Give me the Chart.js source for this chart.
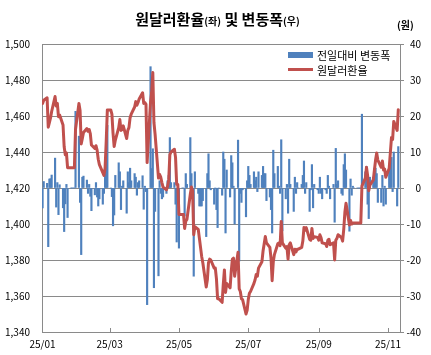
<!DOCTYPE html>
<html><head><meta charset="utf-8">
<script src="https://cdn.jsdelivr.net/npm/chart.js@4.4.1/dist/chart.umd.min.js"></script>
<style>
html,body{margin:0;padding:0;background:#fff;}
#wrap{position:relative;width:431px;height:355px;overflow:hidden;}
#c{position:absolute;left:0;top:0;}
.title{position:absolute;left:2px;width:431px;top:9px;line-height:20px;text-align:center;font-weight:bold;font-size:15px;font-family:"Noto Sans CJK KR",sans-serif;color:#000;white-space:nowrap;}
.title .s{font-size:10px;}
.unit{position:absolute;left:397px;top:19px;line-height:12px;font-weight:bold;font-size:10px;font-family:"Noto Sans CJK KR",sans-serif;color:#000;}
.sw{position:absolute;}
.lt{position:absolute;left:317px;line-height:14px;font-size:11px;font-family:"Noto Sans CJK KR",sans-serif;color:#000;white-space:nowrap;}
</style></head>
<body>
<div id="wrap">
<canvas id="c" width="431" height="355"></canvas>
<div class="title">원달러환율<span class="s">(좌)</span> 및 변동폭<span class="s">(우)</span></div>
<div class="unit">(원)</div>
<div class="sw" style="left:288px;top:52px;width:25px;height:6px;background:#4F81BD"></div>
<div class="lt" style="top:48px">전일대비 변동폭</div>
<div class="sw" style="left:288px;top:68px;width:25px;height:3px;background:#C0504D"></div>
<div class="lt" style="top:63px">원달러환율</div>
</div>
<script>
const year = 2025;
const dates = [
'01-02','01-03','01-06','01-07','01-08','01-09','01-10','01-13','01-14','01-15','01-16','01-17','01-20','01-21','01-22','01-23','01-24','01-27','01-28','01-29','01-30','01-31',
'02-03','02-04','02-05','02-06','02-07','02-10','02-11','02-12','02-13','02-14','02-17','02-18','02-19','02-20','02-21','02-24','02-25','02-26','02-27','02-28',
'03-03','03-04','03-05','03-06','03-07','03-10','03-11','03-12','03-13','03-14','03-17','03-18','03-19','03-20','03-21','03-24','03-25','03-26','03-27','03-28','03-31',
'04-01','04-02','04-03','04-04','04-07','04-08','04-09','04-10','04-11','04-14','04-15','04-16','04-17','04-18','04-21','04-22','04-23','04-24','04-25','04-28','04-29','04-30',
'05-01','05-02','05-05','05-06','05-07','05-08','05-09','05-12','05-13','05-14','05-15','05-16','05-19','05-20','05-21','05-22','05-23','05-26','05-27','05-28','05-29','05-30',
'06-02','06-03','06-04','06-05','06-06','06-09','06-10','06-11','06-12','06-13','06-16','06-17','06-18','06-19','06-20','06-23','06-24','06-25','06-26','06-27','06-30',
'07-01','07-02','07-03','07-04','07-07','07-08','07-09','07-10','07-11','07-14','07-15','07-16','07-17','07-18','07-21','07-22','07-23','07-24','07-25','07-28','07-29','07-30','07-31',
'08-01','08-04','08-05','08-06','08-07','08-08','08-11','08-12','08-13','08-14','08-15','08-18','08-19','08-20','08-21','08-22','08-25','08-26','08-27','08-28','08-29',
'09-01','09-02','09-03','09-04','09-05','09-08','09-09','09-10','09-11','09-12','09-15','09-16','09-17','09-18','09-19','09-22','09-23','09-24','09-25','09-26','09-29','09-30',
'10-01','10-02','10-03','10-06','10-07','10-08','10-09','10-10','10-13','10-14','10-15','10-16','10-17','10-20','10-21','10-22','10-23','10-24','10-27','10-28','10-29','10-30','10-31',
'11-03','11-04','11-05','11-06','11-07','11-10','11-11'
];
const usdkrw = [
1467.0,1468.8,1470.1,1453.8,1456.3,1458.9,1462.5,1470.8,1465.5,1467.0,1459.6,1460.5,1455.0,1442.9,1438.5,1439.5,1431.3,1431.3,1431.3,1431.3,1431.3,1452.6,
1467.0,1463.0,1444.5,1447.5,1450.8,1453.0,1451.5,1452.5,1450.2,1443.9,1442.0,1443.5,1441.0,1436.0,1433.0,1428.5,1427.0,1431.0,1446.0,1463.4,
1463.4,1461.0,1450.5,1443.0,1446.5,1453.5,1458.0,1452.0,1452.5,1454.5,1447.5,1452.0,1453.5,1459.0,1461.0,1465.0,1468.0,1466.0,1467.5,1469.5,1472.9,
1467.0,1467.5,1466.5,1434.1,1467.8,1473.2,1484.1,1456.4,1449.9,1425.5,1427.5,1426.0,1423.0,1420.5,1419.0,1421.0,1424.5,1438.5,1440.0,1441.5,1437.0,1422.0,
1422.0,1405.3,1405.3,1405.3,1397.5,1401.5,1402.5,1416.5,1420.5,1418.5,1394.0,1398.5,1397.0,1392.0,1387.0,1382.0,1378.5,1365.0,1369.0,1378.5,1380.5,1380.0,
1375.5,1375.5,1369.5,1358.5,1358.5,1356.5,1366.5,1374.5,1362.0,1367.0,1364.5,1373.5,1380.5,1381.0,1371.0,1384.3,1364.0,1362.5,1358.5,1358.0,1350.0,
1352.0,1358.0,1361.5,1362.5,1367.0,1369.0,1372.0,1371.0,1375.5,1379.0,1385.0,1389.0,1393.0,1389.5,1387.0,1381.0,1368.5,1379.0,1383.0,1389.0,1389.5,1388.0,1401.4,
1389.5,1386.5,1387.5,1380.5,1388.5,1389.5,1383.0,1386.0,1384.5,1386.0,1386.0,1387.0,1390.5,1398.0,1396.5,1398.0,1391.5,1391.0,1397.5,1392.0,1393.0,
1392.5,1391.0,1394.0,1392.5,1389.5,1389.0,1387.5,1391.0,1391.5,1388.5,1389.5,1380.0,1391.0,1392.0,1394.0,1392.5,1390.5,1397.0,1406.5,1411.5,1399.5,1402.0,
1400.0,1400.5,1400.5,1400.5,1400.5,1400.5,1400.5,1421.0,1425.5,1431.5,1427.0,1418.5,1421.5,1424.5,1430.0,1435.5,1439.5,1435.5,1431.5,1435.0,1430.0,1430.5,1426.0,
1431.0,1439.5,1448.0,1447.0,1457.0,1452.0,1463.5
];
const dailyChange = [
-5.5,1.8,1.3,-16.3,2.5,2.6,3.6,8.3,-5.3,1.5,-7.4,0.9,-5.5,-12.1,-4.4,1.0,-8.2,0,0,0,0,21.3,
14.4,-4.0,-18.5,3.0,3.3,2.2,-1.5,1.0,-2.3,-6.3,-1.9,1.5,-2.5,-5.0,-3.0,-4.5,-1.5,4.0,15.0,17.4,
0,-2.4,-10.5,-7.5,3.5,7.0,4.5,-6.0,0.5,2.0,-7.0,4.5,1.5,5.5,2.0,4.0,3.0,-2.0,1.5,2.0,3.4,
-5.9,0.5,-1.0,-32.4,33.7,5.4,10.9,-27.7,-6.5,-24.4,2.0,-1.5,-3.0,-2.5,-1.5,2.0,3.5,14.0,1.5,1.5,-4.5,-15.0,
0,-16.7,0,0,-7.8,4.0,1.0,14.0,4.0,-2.0,-24.5,4.5,-1.5,-5.0,-5.0,-5.0,-3.5,-13.5,4.0,9.5,2.0,-0.5,
-4.5,0,-6.0,-11.0,0,-2.0,10.0,8.0,-12.5,5.0,-2.5,9.0,7.0,0.5,-10.0,13.3,-20.3,-1.5,-4.0,-0.5,-8.0,
2.0,6.0,3.5,1.0,4.5,2.0,3.0,-1.0,4.5,3.5,6.0,4.0,4.0,-3.5,-2.5,-6.0,-12.5,10.5,4.0,6.0,0.5,-1.5,13.4,
-11.9,-3.0,1.0,-7.0,8.0,1.0,-6.5,3.0,-1.5,1.5,0,1.0,3.5,7.5,-1.5,1.5,-6.5,-0.5,6.5,-5.5,1.0,
-0.5,-1.5,3.0,-1.5,-3.0,-0.5,-1.5,3.5,0.5,-3.0,1.0,-9.5,11.0,1.0,2.0,-1.5,-2.0,6.5,9.5,5.0,-12.0,2.5,
-2.0,0.5,0,0,0,0,0,20.5,4.5,6.0,-4.5,-8.5,3.0,3.0,5.5,5.5,4.0,-4.0,-4.0,3.5,-5.0,0.5,-4.5,
5.0,8.5,8.5,-1.0,10.0,-5.0,11.5
];
const tickDates = ['01-02','03-02','05-02','07-02','09-02','11-02'];
const tickLabels = ['25/01','25/03','25/05','25/07','25/09','25/11'];
const seriesNames = ['전일대비 변동폭','원달러환율'];

function dayOf(md){const [m,d]=md.split('-').map(Number);return (Date.UTC(year,m-1,d)-Date.UTC(year,0,1))/864e5;}
const xs = dates.map(dayOf);
const tickDays = tickDates.map(dayOf);
const labelMap = {}; tickDays.forEach((v,i)=>labelMap[v]=tickLabels[i]);
const lineData = xs.map((x,i)=>({x, y: usdkrw[i]}));
const barData = xs.map((x,i)=>({x, y: dailyChange[i]}));

const GRID = '#8a8a8a';
const FONT = {family:'"Noto Sans CJK KR", sans-serif', size:10};

const innerTicks = {
  id:'innerTicks',
  afterDraw(chart){
    const {ctx, chartArea} = chart; const sx = chart.scales.x;
    ctx.save(); ctx.strokeStyle = GRID; ctx.lineWidth = 1;
    tickDays.forEach((v,i)=>{ if(i===0) return; const px = Math.round(sx.getPixelForValue(v))+0.5;
      ctx.beginPath(); ctx.moveTo(px, chartArea.bottom); ctx.lineTo(px, chartArea.bottom-4); ctx.stroke();});
    ctx.restore();
  }
};

new Chart(document.getElementById('c'), {
  data:{datasets:[
    {type:'line', label:seriesNames[1], data:lineData, yAxisID:'y', borderColor:'#C0504D', borderWidth:3, pointRadius:0, tension:0, order:0, borderJoinStyle:'round', borderCapStyle:'round'},
    {type:'bar', label:seriesNames[0], data:barData, yAxisID:'y2', backgroundColor:'#4F81BD', barThickness:1.5, order:1}
  ]},
  options:{
    responsive:false, animation:false, devicePixelRatio:1,
    layout:{padding:{left:0,right:10,top:44,bottom:0}},
    plugins:{legend:{display:false}, title:{display:false}, tooltip:{enabled:false}},
    scales:{
      x:{type:'linear', min:0.5, max:315.5, offset:false,
        afterBuildTicks:s=>{s.ticks = tickDays.map(v=>({value:v}));},
        ticks:{callback:v=>labelMap[v]||'', font:FONT, color:'#000', padding:6, maxRotation:0, autoSkip:false},
        grid:{display:false, drawTicks:false}, border:{display:true, color:GRID},
        afterFit:s=>{s.height=23;}},
      y:{position:'left', min:1340, max:1500,
        ticks:{stepSize:20, callback:v=>v.toLocaleString('en-US'), font:FONT, color:'#000', padding:12},
        grid:{color:GRID, drawTicks:false}, border:{color:GRID},
        afterFit:s=>{s.width=42;}},
      y2:{position:'right', min:-40, max:40,
        ticks:{stepSize:10, font:FONT, color:'#000', crossAlign:'far'},
        grid:{drawOnChartArea:false, drawTicks:true, tickLength:4, color:GRID}, border:{color:GRID},
        afterFit:s=>{s.width=21;}}
    }
  },
  plugins:[innerTicks]
});
</script>
</body></html>
